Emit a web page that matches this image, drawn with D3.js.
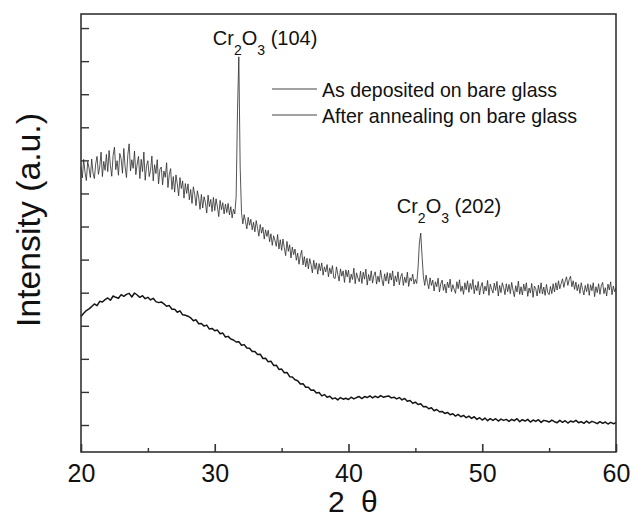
<!DOCTYPE html>
<html>
<head>
<meta charset="utf-8">
<script src="https://cdn.jsdelivr.net/npm/d3@7"></script>
<style>
  html, body { margin: 0; padding: 0; background: #fff; }
  svg { display: block; }
  text { font-family: "Liberation Sans", Arial, Helvetica, sans-serif; fill: #111; }
</style>
</head>
<body>
<svg id="chart" width="634" height="519"></svg>
<script>
// ---- data ----
const seriesNames = ["As deposited on bare glass", "After annealing on bare glass"];
// As deposited: 2θ = 20.0 ... 60.0, step 0.1
const depStart = 20, depStep = 0.1;
const asDeposited = [
  880, 847, 903, 864, 839, 896, 877, 848, 904, 862,
  845, 890, 912, 858, 880, 925, 851, 897, 870, 918,
  866, 930, 884, 852, 915, 940, 872, 899, 855, 921,
  905, 861, 936, 880, 848, 917, 950, 868, 902, 876,
  928, 857, 889, 912, 845, 903, 866, 925, 840, 884,
  899, 851, 870, 913, 838, 887, 860, 902, 829, 873,
  880, 826, 868, 849, 893, 818, 857, 875, 812, 851,
  804, 856, 829, 793, 848, 815, 838, 786, 830, 800,
  829, 781, 812, 770, 820, 797, 763, 808, 788, 752,
  797, 756, 790, 773, 741, 795, 760, 782, 745, 788,
  748, 784, 759, 730, 779, 751, 772, 738, 768, 742,
  770, 735, 760, 726, 752, 738, 790, 1050, 1213, 880,
  742, 708, 736, 715, 693, 728, 704, 722, 690, 713,
  684, 718, 695, 671, 706, 680, 698, 662, 690, 670,
  689, 654, 678, 643, 672, 658, 640, 676, 632, 660,
  628, 662, 636, 612, 655, 625, 645, 605, 638, 615,
  632, 598, 620, 586, 612, 628, 584, 609, 578, 604,
  572, 603, 585, 560, 598, 571, 590, 556, 588, 566,
  590, 553, 578, 563, 585, 548, 575, 557, 582, 545,
  543, 578, 555, 535, 572, 550, 566, 531, 569, 548,
  568, 530, 556, 540, 574, 527, 560, 545, 533, 565,
  528, 562, 541, 571, 523, 555, 536, 566, 529, 552,
  563, 526, 550, 532, 568, 540, 521, 557, 535, 561,
  527, 559, 538, 566, 520, 551, 533, 563, 524, 548,
  558, 522, 547, 530, 562, 519, 545, 535, 556, 526,
  540, 528, 575, 650, 680, 610, 548, 522, 553, 531,
  512, 545, 522, 538, 505, 533, 518, 544, 502, 527,
  538, 507, 526, 499, 532, 515, 541, 503, 524, 510,
  498, 533, 512, 539, 504, 520, 495, 530, 509, 536,
  501, 528, 510, 540, 497, 523, 506, 534, 493, 519,
  531, 496, 520, 505, 537, 492, 526, 511, 499, 529,
  507, 534, 490, 522, 500, 530, 515, 494, 527, 503,
  525, 497, 531, 508, 488, 521, 502, 535, 495, 518,
  493, 526, 505, 530, 489, 514, 499, 528, 486, 520,
  512, 490, 523, 498, 530, 496, 517, 492, 525, 500,
  494, 519, 497, 527, 502, 530, 508, 536, 512, 528,
  542, 516, 535, 548, 522, 540, 550, 518, 536, 510,
  532, 506, 525, 498, 530, 510, 493, 522, 503, 527,
  492, 524, 506, 530, 488, 518, 500, 527, 495, 521,
  531, 497, 515, 490, 526, 508, 533, 494, 520, 503,
  516
];
// After annealing: 2θ = 20.0 ... 60.0, step 0.2
const annStart = 20, annStep = 0.2;
const afterAnnealing = [
  428, 438, 446, 451, 458,
  466, 461, 474, 472, 479,
  484, 477, 490, 486, 483,
  494, 489, 495, 498, 487,
  499, 493, 486, 491, 482,
  486, 478, 483, 473, 470,
  472, 466, 459, 461, 450,
  450, 441, 445, 433, 432,
  429, 424, 415, 418, 406,
  407, 399, 402, 390, 392,
  385, 387, 376, 378, 366,
  368, 360, 357, 351, 352,
  341, 343, 333, 332, 322,
  322, 313, 314, 301, 302,
  291, 293, 280, 281, 268,
  269, 258, 259, 246, 245,
  237, 234, 224, 225, 214,
  214, 205, 206, 197, 198,
  188, 192, 184, 187, 179,
  182, 176, 183, 178, 181,
  177, 184, 179, 183, 186,
  180, 186, 183, 188, 182,
  187, 183, 189, 184, 186,
  188, 182, 184, 179, 183,
  176, 180, 172, 174, 166,
  169, 162, 164, 155, 156,
  149, 152, 143, 147, 140,
  141, 135, 138, 131, 134,
  127, 132, 125, 129, 122,
  127, 120, 125, 117, 122,
  115, 121, 113, 119, 114,
  119, 112, 118, 114, 117,
  111, 117, 113, 119, 110,
  116, 112, 117, 109, 115,
  111, 116, 108, 114, 112,
  109, 115, 110, 107, 114,
  108, 113, 106, 112, 109,
  114, 107, 110, 105, 112,
  106, 111, 108, 104, 110,
  105, 109, 103, 108, 104,
  107
];
const xTicks = [20, 30, 40, 50, 60];
const xMinorTicks = [25, 35, 45, 55];
const yTicks = [100, 200, 300, 400, 500, 600, 700, 800, 900, 1000, 1100, 1200, 1300];
const peakLabels = [
  { name: "Cr", sub1: "2", mid: "O", sub2: "3", hkl: " (104)", theta: 31.8 },
  { name: "Cr", sub1: "2", mid: "O", sub2: "3", hkl: " (202)", theta: 45.4 }
];

// ---- layout ----
const svg = d3.select("#chart");
const m = { left: 81, top: 14, right: 18, bottom: 67 };
const W = 634 - m.left - m.right, H = 519 - m.top - m.bottom;
const g = svg.append("g").attr("transform", `translate(${m.left},${m.top})`);

const x = d3.scaleLinear().domain([20, 60]).range([0, W]);
const y = d3.scaleLinear().domain([18.4, 1342.5]).range([H, 0]);

const toPts = (arr, s, st) => arr.map((v, i) => [s + i * st, v]);
const line = d3.line().x(d => x(d[0])).y(d => y(d[1]));

g.append("path").datum(toPts(afterAnnealing, annStart, annStep))
  .attr("fill", "none").attr("stroke", "#151515").attr("stroke-width", 1.5)
  .attr("stroke-linejoin", "round")
  .attr("d", line);
g.append("path").datum(toPts(asDeposited, depStart, depStep))
  .attr("fill", "none").attr("stroke", "#2a2a2a").attr("stroke-width", 0.8)
  .attr("d", line);

// frame
g.append("rect").attr("x", 0).attr("y", 0).attr("width", W).attr("height", H)
  .attr("fill", "none").attr("stroke", "#333").attr("stroke-width", 1.6);

// x axis
const xAxis = d3.axisBottom(x).tickValues(xTicks).tickSize(-8).tickPadding(12).tickFormat(d3.format("d"));
const xg = g.append("g").attr("transform", `translate(0,${H})`).call(xAxis);
xg.select(".domain").remove();
xg.selectAll(".tick line").attr("stroke", "#333").attr("stroke-width", 1.6);
xg.selectAll(".tick text").attr("font-size", 25).attr("fill", "#111")
  .style("font-family", "'Liberation Sans', Arial, sans-serif");
const xmg = g.append("g").attr("transform", `translate(0,${H})`)
  .call(d3.axisBottom(x).tickValues(xMinorTicks).tickSize(-4).tickFormat(""));
xmg.select(".domain").remove();
xmg.selectAll(".tick line").attr("stroke", "#333").attr("stroke-width", 1.4);

// y axis (ticks only)
const yg = g.append("g").call(d3.axisLeft(y).tickValues(yTicks).tickSize(-8).tickFormat(""));
yg.select(".domain").remove();
yg.selectAll(".tick line").attr("stroke", "#333").attr("stroke-width", 1.4);

// axis titles
const xt = svg.append("text").attr("y", 512).attr("font-size", 30);
xt.append("tspan").attr("x", 328).text("2");
xt.append("tspan").attr("x", 361).text("θ");
svg.append("text").attr("transform", "translate(40,220) rotate(-90)")
  .attr("text-anchor", "middle").attr("font-size", 34)
  .attr("textLength", 214).attr("lengthAdjust", "spacingAndGlyphs")
  .text("Intensity (a.u.)");

// peak labels
function peakLabel(p, px, py) {
  const t = g.append("text").attr("x", px).attr("y", py).attr("font-size", 20);
  t.append("tspan").text(p.name);
  t.append("tspan").attr("font-size", 14).attr("dy", 10).text(p.sub1);
  t.append("tspan").attr("dy", -10).text(p.mid);
  t.append("tspan").attr("font-size", 14).attr("dy", 10).text(p.sub2);
  t.append("tspan").attr("dy", -10).text(p.hkl);
  return t;
}
peakLabel(peakLabels[0], x(peakLabels[0].theta) - 26, 31);
peakLabel(peakLabels[1], x(peakLabels[1].theta) - 24, 199);

// legend
const lg = g.append("g");
const legW = [235, 255];
seriesNames.forEach((s, i) => {
  const ly = 75 + i * 26;
  lg.append("line").attr("x1", 191).attr("x2", 236).attr("y1", ly).attr("y2", ly)
    .attr("stroke", "#444").attr("stroke-width", 1);
  lg.append("text").attr("x", 241).attr("y", ly + 8).attr("font-size", 21)
    .attr("textLength", legW[i]).attr("lengthAdjust", "spacingAndGlyphs").text(s);
});
</script>
</body>
</html>
